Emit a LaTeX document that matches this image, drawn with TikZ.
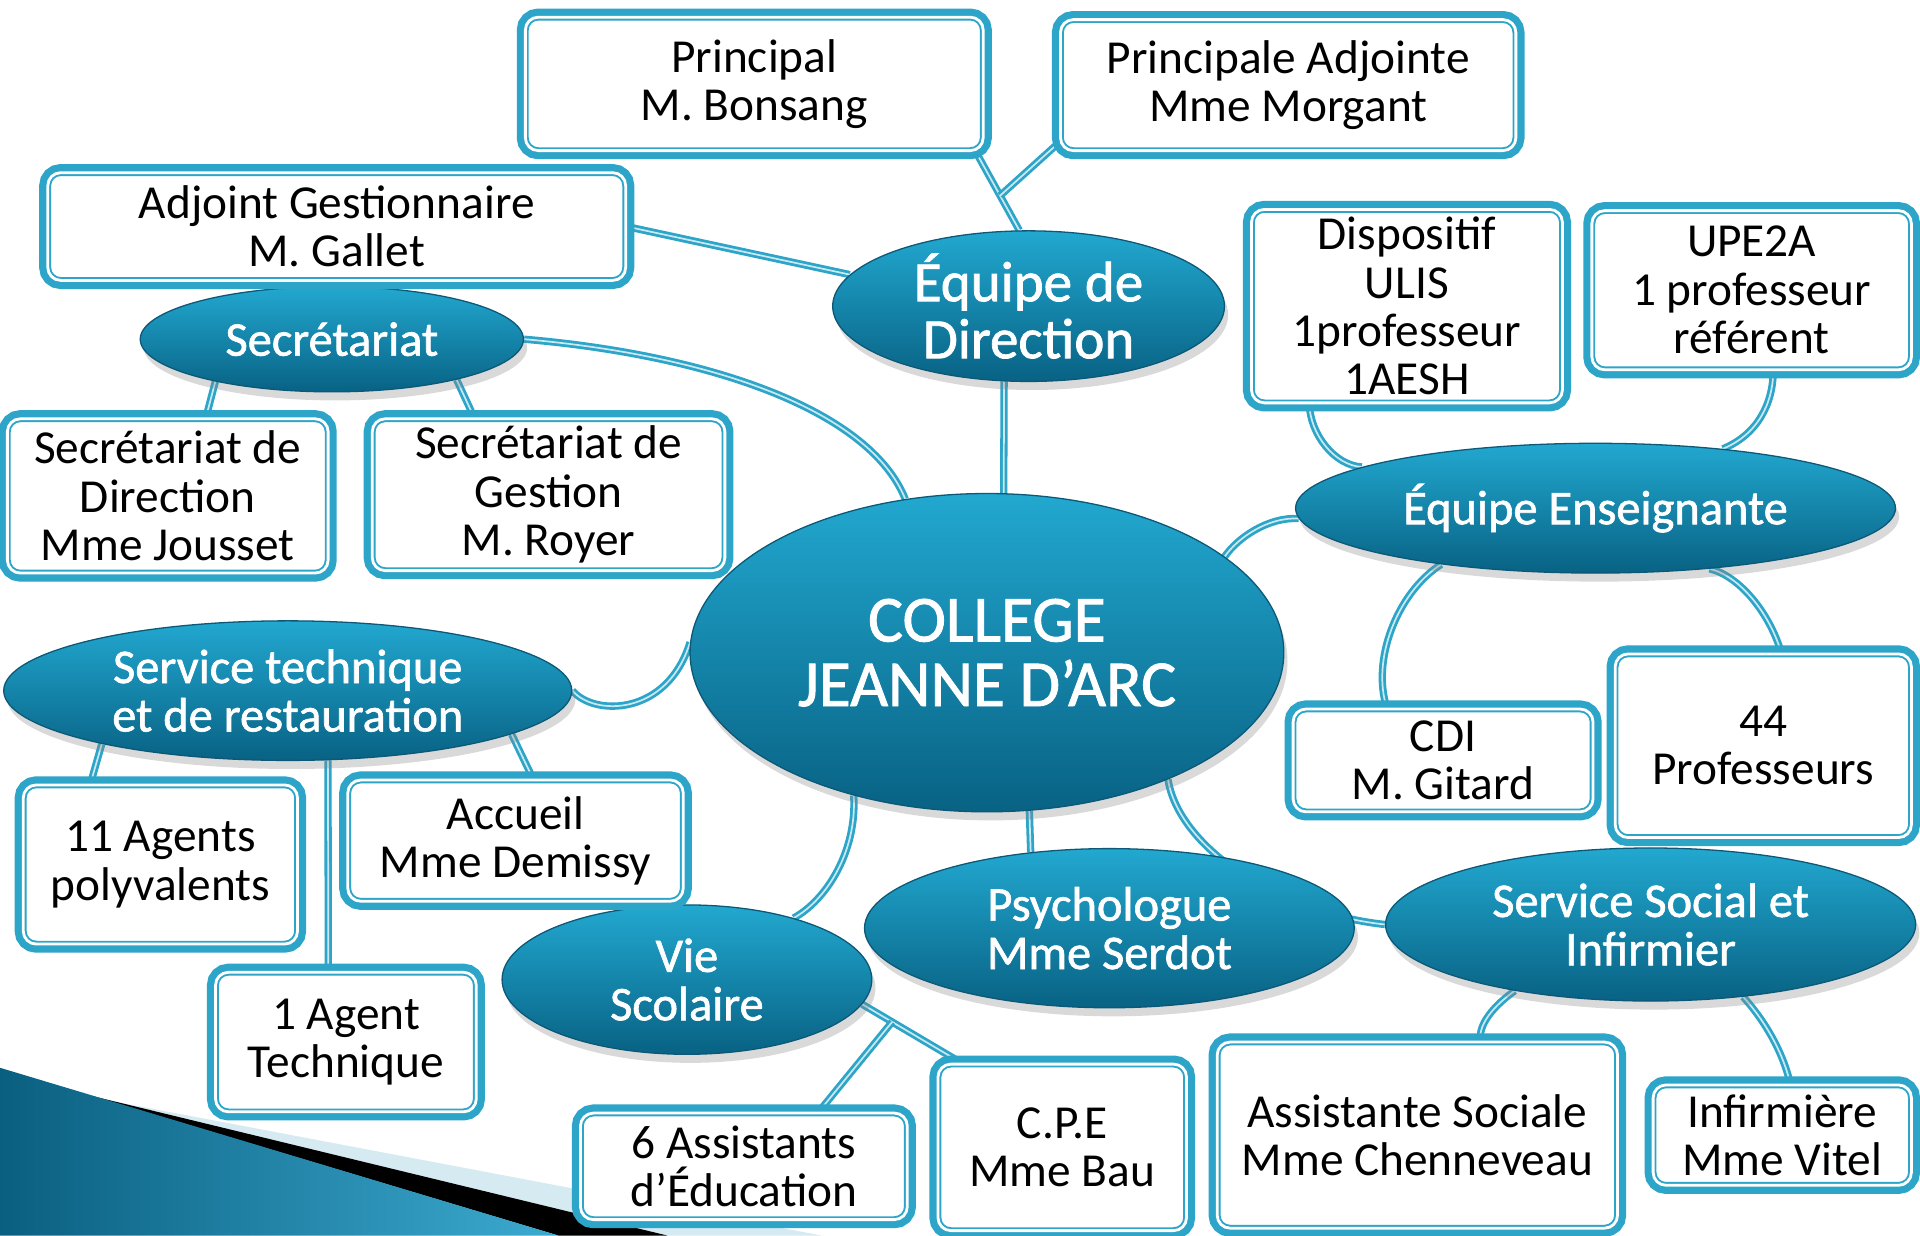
\documentclass[tikz,border=0pt]{standalone}
\usepackage{fontspec}
\setmainfont{Carlito}
\newfontfamily\hubfont{Carlito}[FakeBold=1.3]
\usepackage{xcolor}
\usepackage{tikz}
\usetikzlibrary{arrows.meta,positioning}
\usetikzlibrary{shapes.geometric,shadows}
\definecolor{boxteal}{RGB}{45,165,200}
\definecolor{hubtop}{RGB}{34,168,208}
\definecolor{hubbottom}{RGB}{8,98,132}
\definecolor{hubedge}{RGB}{12,88,118}
\definecolor{bandlight}{RGB}{214,234,242}
\definecolor{wedgedark}{RGB}{10,95,128}
\definecolor{wedgelight}{RGB}{60,170,208}
\pgfdeclarelayer{background}
\pgfsetlayers{background,main}

\begin{document}
\begin{tikzpicture}[
                    x=0.02cm, y=-0.02cm,
                    box/.style={rectangle, rounded corners=6pt, fill=white, draw=boxteal, line width=0.9pt, double=white, double distance=1.3pt, preaction={draw=boxteal, line width=8pt}, align=center, inner sep=2pt, font=\fontsize{22}{22.5}\selectfont},
                    hub/.style={ellipse, draw=hubedge, line width=0.6pt, top color=hubtop, bottom color=hubbottom, text=white, align=center, inner sep=0pt, drop shadow={opacity=0.3, shadow xshift=0.6mm, shadow yshift=-1.4mm}, font=\hubfont\fontsize{22.5}{22.5}\selectfont},
                    link/.style={draw=boxteal, line width=1.3pt, double=white!75!boxteal, double distance=0.8pt}
                ]
                    \useasboundingbox (0,0) rectangle (1568,1009);

                    % Hubs
                    \node[hub, minimum width=9.7cm, minimum height=5.2cm, font=\hubfont\fontsize{30.5}{30}\selectfont] (College) at (806,533) {COLLEGE\\JEANNE D’ARC};
                    \node[hub, minimum width=6.4cm, minimum height=2.46cm, font=\hubfont\fontsize{26.5}{26.5}\selectfont] (Direction) at (840,250) {Équipe de\\Direction};
                    \node[hub, minimum width=6.26cm, minimum height=1.72cm] (Secretariat) at (271,277) {Secrétariat};
                    \node[hub, minimum width=9.28cm, minimum height=2.28cm] (Technique) at (235,564) {Service technique\\et de restauration};
                    \node[hub, minimum width=9.8cm, minimum height=2.12cm] (Enseignants) at (1303,415) {Équipe Enseignante};
                    \node[hub, minimum width=6.04cm, minimum height=2.44cm] (VieSco) at (561,800) {Vie\\Scolaire};
                    \node[hub, minimum width=8.0cm, minimum height=2.6cm] (Psycho) at (906,758) {Psychologue\\Mme Serdot};
                    \node[hub, minimum width=8.66cm, minimum height=2.5cm] (Social) at (1348,755) {Service Social et\\Infirmier};

                    % Boxes
                    \node[box, minimum width=7.48cm, minimum height=2.18cm] (Principal) at (616,68.5) {Principal\\M. Bonsang};
                    \node[box, minimum width=7.44cm, minimum height=2.14cm] (PrincAdj) at (1052,69.5) {Principale Adjointe\\Mme Morgant};
                    \node[box, minimum width=9.44cm, minimum height=1.76cm] (Gestion) at (275,185) {Adjoint Gestionnaire\\M. Gallet};
                    \node[box, minimum width=5.24cm, minimum height=2.52cm] (SecDir) at (137,405) {Secrétariat de\\Direction\\Mme Jousset};
                    \node[box, minimum width=5.76cm, minimum height=2.48cm] (SecGes) at (448,404) {Secrétariat de\\Gestion\\M. Royer};
                    \node[box, minimum width=5.08cm, minimum height=3.16cm] (Ulis) at (1149,250) {Dispositif\\ULIS\\1professeur\\1AESH};
                    \node[box, minimum width=5.22cm, minimum height=2.6cm] (Upe) at (1430.5,237) {UPE2A\\1 professeur\\référent};
                    \node[box, minimum width=4.9cm, minimum height=1.68cm] (Cdi) at (1178.5,621) {CDI\\M. Gitard};
                    \node[box, minimum width=4.84cm, minimum height=3.0cm] (Profs) at (1440,609) {44\\Professeurs};
                    \node[box, minimum width=4.48cm, minimum height=2.6cm] (Agents) at (131,706) {11 Agents\\polyvalents};
                    \node[box, minimum width=5.48cm, minimum height=1.98cm] (Accueil) at (421,686.5) {Accueil\\Mme Demissy};
                    \node[box, minimum width=4.26cm, minimum height=2.28cm] (AgentTech) at (282.5,851) {1 Agent\\Technique};
                    \node[box, minimum width=5.34cm, minimum height=1.74cm] (Assistants) at (607.5,952.5) {6 Assistants\\d’Éducation};
                    \node[box, minimum width=4.06cm, minimum height=2.72cm] (Cpe) at (867.5,937) {C.P.E\\Mme Bau};
                    \node[box, minimum width=6.54cm, minimum height=3.04cm] (AssSociale) at (1157.5,927) {Assistante Sociale\\Mme Chenneveau};
                    \node[box, minimum width=4.22cm, minimum height=1.64cm] (Infirmiere) at (1455.5,927) {Infirmière\\Mme Vitel};

                    \begin{pgfonlayer}{background}
                    % Corner bands
                    \fill[bandlight] (85,898) -- (671,1009) -- (545,1009) -- cycle;
                    \fill[black] (75,895) -- (545,1009) -- (456,1009) -- cycle;
                    \shade[left color=wedgedark, right color=wedgelight] (0,872) -- (456,1009) -- (0,1009) -- cycle;

                    % Links
                    \draw[link] (Principal.343) -- coordinate[pos=0.56] (DirJoin) (Direction.97);
                    \draw[link] (PrincAdj.194) -- (DirJoin);
                    \draw[link] (Gestion.east) -- (Direction.170);
                    \draw[link] (Direction.252) -- (College.84);
                    \draw[link] (Secretariat.east) .. controls (580,290) and (710,335) .. (College.118);
                    \draw[link] (Secretariat.200) -- (SecDir.64);
                    \draw[link] (Secretariat.342) -- (SecGes.134);
                    \draw[link] (Technique.east) .. controls (485,585) and (545,585) .. (College.178);
                    \draw[link] (Technique.196) -- (Agents.131);
                    \draw[link] (Technique.300) -- (AgentTech.104);
                    \draw[link] (Technique.349) -- (Accueil.74);
                    \draw[link] (College.227) .. controls (700,695) and (675,735) .. (VieSco.30);
                    \draw[link] (College.285) -- (Psycho.136);
                    \draw[link] (College.325) .. controls (962,690) and (1040,745) .. (Social.west);
                    \draw[link] (VieSco.352) -- coordinate[pos=0.3] (VieJoin) (Cpe.140);
                    \draw[link] (Assistants.36) -- (VieJoin);
                    \draw[link] (Enseignants.182) .. controls (1035,422) and (1010,440) .. (College.22);
                    \draw[link] (Ulis.225) .. controls (1070,355) and (1090,380) .. (Enseignants.170);
                    \draw[link] (Upe.285) .. controls (1448,330) and (1435,355) .. (Enseignants.25);
                    \draw[link] (Enseignants.200) .. controls (1140,485) and (1120,540) .. (Cdi.137);
                    \draw[link] (Enseignants.332) .. controls (1420,470) and (1445,500) .. (Profs.79);
                    \draw[link] (Social.206) .. controls (1215,825) and (1207,840) .. (AssSociale.56);
                    \draw[link] (Social.322) .. controls (1438,830) and (1455,855) .. (Infirmiere.81);
                    \end{pgfonlayer}
                \end{tikzpicture}
\end{document}
